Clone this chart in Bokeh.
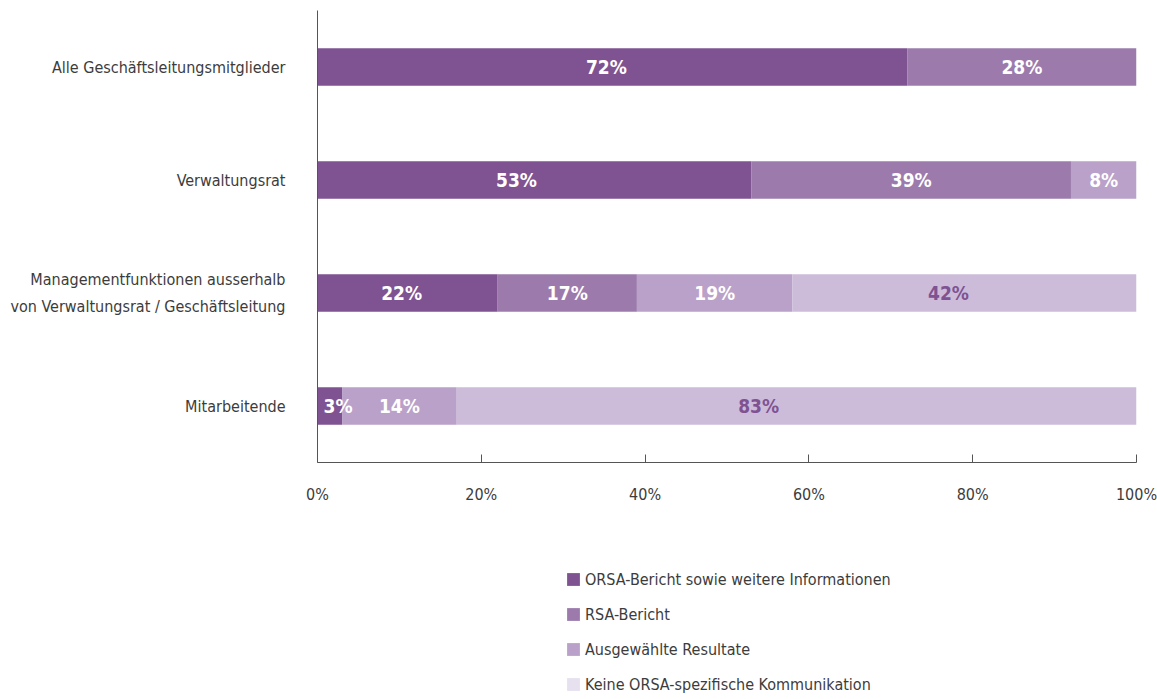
from bokeh.plotting import figure
from bokeh.layouts import column
from bokeh.models import (ColumnDataSource, FactorRange, Range1d, Legend, LegendItem,
                          PrintfTickFormatter, FixedTicker)
from bokeh.core.properties import value
from bokeh.embed import file_html
from bokeh.resources import INLINE

categories = [
    "Alle Geschäftsleitungsmitglieder",
    "Verwaltungsrat",
    "Managementfunktionen ausserhalb\nvon Verwaltungsrat / Geschäftsleitung",
    "Mitarbeitende",
]
series = [
    "ORSA-Bericht sowie weitere Informationen",
    "RSA-Bericht",
    "Ausgewählte Resultate",
    "Keine ORSA-spezifische Kommunikation",
]
orsa = [72, 53, 22, 3]
rsa = [28, 39, 17, 0]
resultate = [0, 8, 19, 14]
keine = [0, 0, 42, 83]
x_ticks = [0, 20, 40, 60, 80, 100]

bar_colors = ["#7f5292", "#9c7bac", "#b9a1c9", "#ccbcda"]
legend_colors = ["#7f5292", "#9c7bac", "#b9a1c9", "#e6e0ef"]
label_colors = ["#ffffff", "#ffffff", "#ffffff", "#7f5292"]
# pixel nudges of some segment labels (style only)
label_nudge = {(1, 0): -18, (2, 3): -16, (3, 3): -38, (2, 0): -6, (0, 0): -6}

FONT = "'DejaVu Sans Condensed', 'Liberation Sans Narrow', sans-serif"
TXT = "#3c3c3c"
keys = ["orsa", "rsa", "resultate", "keine"]
values = [orsa, rsa, resultate, keine]

data = {"cat": categories}
for k, v in zip(keys, values):
    data[k] = v
source = ColumnDataSource(data)

p = figure(
    width=1157, height=515,
    y_range=FactorRange(factors=list(reversed(categories))),
    x_range=Range1d(0, 100),
    output_backend="svg", toolbar_location=None,
    min_border_left=317, min_border_right=21, min_border_top=10, min_border_bottom=53,
)
p.outline_line_color = None
p.xgrid.grid_line_color = None
p.ygrid.grid_line_color = None

p.hbar_stack(keys, y="cat", height=0.33, color=bar_colors, source=source, line_color=None)

# segment labels
lx, ly, lt, lc, lo, la = [], [], [], [], [], []
for i, cat in enumerate(categories):
    left = 0
    for j, v in enumerate(values):
        val = v[i]
        if val > 0:
            if val < 5:
                lx.append(left)
                la.append("left")
                lo.append(6)
            else:
                lx.append(left + val / 2)
                la.append("center")
                lo.append(label_nudge.get((i, j), 0))
            ly.append(cat)
            lt.append(f"{val}%")
            lc.append(label_colors[j])
        left += val
lsrc = ColumnDataSource(dict(x=lx, y=ly, t=lt, c=lc, o=lo, a=la))
p.text(x="x", y="y", text="t", source=lsrc, text_color="c", text_align="a",
       x_offset="o", text_baseline="middle", text_font=value(FONT),
       text_font_size="19px", text_font_style="bold")

# axes
p.xaxis.ticker = FixedTicker(ticks=x_ticks)
p.xaxis.formatter = PrintfTickFormatter(format="%d%%")
p.xaxis.major_tick_in = 8
p.xaxis.major_tick_out = 0
p.xaxis.minor_tick_line_color = None
p.xaxis.axis_line_color = "#555555"
p.xaxis.major_tick_line_color = "#555555"
p.xaxis.major_label_standoff = 22
p.xaxis.major_label_text_font = FONT
p.xaxis.major_label_text_font_size = "16px"
p.xaxis.major_label_text_color = TXT

p.yaxis.major_tick_line_color = None
p.yaxis.major_tick_out = 0
p.yaxis.major_tick_in = 0
p.yaxis.minor_tick_line_color = None
p.yaxis.axis_line_color = "#555555"
p.yaxis.major_label_standoff = 32
p.yaxis.major_label_text_font = FONT
p.yaxis.major_label_text_font_size = "16px"
p.yaxis.major_label_text_color = TXT
p.yaxis.major_label_text_line_height = 1.4

# legend figure: hidden renderers of the same data, only their legend glyphs show
lg = figure(width=1157, height=184, x_range=Range1d(0, 1), y_range=Range1d(0, 1),
            x_axis_type=None, y_axis_type=None, output_backend="svg",
            toolbar_location=None, min_border=0)
lg.outline_line_color = None
lg.xgrid.grid_line_color = None
lg.ygrid.grid_line_color = None
items = []
for name, key, col in zip(series, keys, legend_colors):
    r = lg.hbar(y=key, right=key, height=1, source=source, fill_color=col,
                line_color=None, visible=False)
    items.append(LegendItem(label=name, renderers=[r]))

legend = Legend(items=items, location=(248, 5), orientation="vertical",
                padding=0, margin=0, spacing=15, glyph_width=16, glyph_height=16,
                label_standoff=4, label_height=20,
                label_text_font=FONT, label_text_font_size="16px",
                label_text_color=TXT, inactive_fill_alpha=0,
                border_line_color=None, background_fill_alpha=0)
lg.add_layout(legend, "center")

layout = column(p, lg, spacing=0)
open("out.html", "w").write(file_html(layout, INLINE))
